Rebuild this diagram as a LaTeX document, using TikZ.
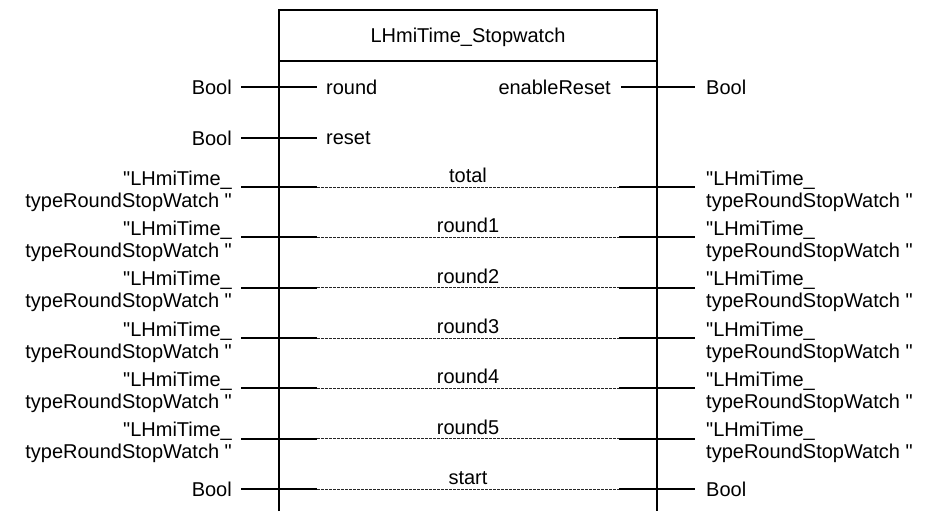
\documentclass[tikz,border=0pt]{standalone}
\usepackage{fontspec}
\setmainfont{Liberation Sans}[Ligatures=TeXOff]
\begin{document}
\begin{tikzpicture}[x=1pt,y=-1pt,
  lbl/.style={inner sep=0pt, font=\fontsize{20}{22}\selectfont},
  wire/.style={line width=2pt},
  dwire/.style={line width=1pt, dash pattern=on 3pt off 1pt, black!85},
  frame/.style={line width=2pt}]
\useasboundingbox (0,0) rectangle (928,511);
% block frame (open at the bottom)
\coordinate (TL) at (279,10);
\coordinate (TR) at (657,10);
\coordinate (BL) at (279,511);
\coordinate (BR) at (657,511);
\coordinate (SL) at (279,61);
\coordinate (SR) at (657,61);
\draw[frame] (BL) -- (TL) -- (TR) -- (BR);
\draw[frame] (SL) -- (SR);
\node[lbl] (title) at (468,37) {LHmiTime\_Stopwatch};
% round / enableReset
\node[lbl, anchor=east] (bRound) at (232,87) {Bool};
\node[lbl, anchor=west] (pRound) at (326,87) {round};
\coordinate (roundA) at (241,87);
\coordinate (roundB) at (317,87);
\draw[wire] (roundA) -- (roundB);
\node[lbl, anchor=east] (pEnable) at (611,87) {enableReset};
\node[lbl, anchor=west] (bEnable) at (706,87) {Bool};
\coordinate (enA) at (621,87);
\coordinate (enB) at (695,87);
\draw[wire] (enA) -- (enB);
% reset
\node[lbl, anchor=east] (bReset) at (232,138) {Bool};
\node[lbl, anchor=west] (pReset) at (326,138) {reset};
\coordinate (resA) at (241,138);
\coordinate (resB) at (317,138);
\draw[wire] (resA) -- (resB);
% in/out rows
\foreach \n/\y [count=\i] in {total/187, round1/237.3, round2/287.7, round3/338, round4/388.3, round5/438.7} {
  \node[lbl, anchor=base east, align=right] (L\i) at (232,\y+20) {"LHmiTime\_\\typeRoundStopWatch "};
  \node[lbl, anchor=base west, align=left] (R\i) at (706,\y+20) {"LHmiTime\_\\typeRoundStopWatch "};
  \node[lbl, anchor=base] (P\i) at (468,\y-4.5) {\n};
  \coordinate (la\i) at (241,\y);
  \coordinate (lb\i) at (317,\y);
  \coordinate (ra\i) at (619,\y);
  \coordinate (rb\i) at (695,\y);
  \draw[wire] (la\i) -- (lb\i);
  \draw[dwire] (lb\i) -- (ra\i);
  \draw[wire] (ra\i) -- (rb\i);
}
% start
\node[lbl, anchor=east] (bStartL) at (232,489) {Bool};
\node[lbl, anchor=west] (bStartR) at (706,489) {Bool};
\node[lbl, anchor=base] (pStart) at (468,484.5) {start};
\coordinate (sa) at (241,489);
\coordinate (sb) at (317,489);
\coordinate (sc) at (619,489);
\coordinate (sd) at (695,489);
\draw[wire] (sa) -- (sb);
\draw[dwire] (sb) -- (sc);
\draw[wire] (sc) -- (sd);
\end{tikzpicture}
\end{document}
